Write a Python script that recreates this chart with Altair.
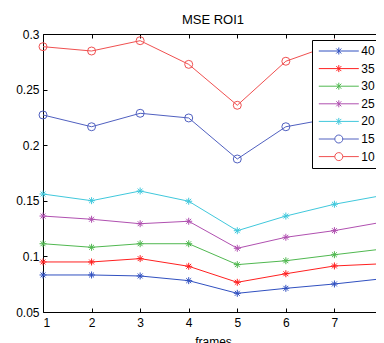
import altair as alt
import pandas as pd

frames = [1, 2, 3, 4, 5, 6, 7, 8]
series_names = ["40", "35", "30", "25", "20", "15", "10"]
s40 = [0.0833, 0.0833, 0.0824, 0.0782, 0.0668, 0.0713, 0.0752, 0.0800]
s35 = [0.0950, 0.0950, 0.0980, 0.0911, 0.0767, 0.0844, 0.0914, 0.0934]
s30 = [0.1114, 0.1082, 0.1114, 0.1114, 0.0926, 0.0961, 0.1015, 0.1067]
s25 = [0.1363, 0.1334, 0.1294, 0.1316, 0.1073, 0.1172, 0.1232, 0.1309]
s20 = [0.1561, 0.1501, 0.1588, 0.1496, 0.1231, 0.1363, 0.1469, 0.1549]
s15 = [0.2272, 0.2166, 0.2287, 0.2245, 0.1876, 0.2166, 0.2246, 0.2250]
s10 = [0.2886, 0.2847, 0.2940, 0.2727, 0.2359, 0.2755, 0.2910, 0.2900]
colors = ["#3050c0", "#ff2020", "#50b850", "#b050b0", "#40c8dc", "#5060c0", "#f05050"]
star_series = ["40", "35", "30", "25", "20"]
circle_series = ["15", "10"]
y_ticks = [0.05, 0.1, 0.15, 0.2, 0.25, 0.3]

all_vals = [s40, s35, s30, s25, s20, s15, s10]
rows = []
for name, vals in zip(series_names, all_vals):
    for f, v in zip(frames, vals):
        rows.append({"frame": f, "mse": v, "series": name})
df = pd.DataFrame(rows)

STAR = "M-1,0L1,0M0,-1L0,1M-0.7,-0.7L0.7,0.7M-0.7,0.7L0.7,-0.7"
LEG_STAR = "M-4,0L4,0M0,-0.7L0,0.7M-0.5,-0.5L0.5,0.5M-0.5,0.5L0.5,-0.5"
LEG_CIRC = "M-4,0L-0.8,0M0.8,0L4,0M0.8,0A0.8,0.8,0,1,1,-0.8,0A0.8,0.8,0,1,1,0.8,0Z"
leg_shapes = [LEG_STAR] * 5 + [LEG_CIRC] * 2

W, H = 340, 278
xs = alt.Scale(domain=[1, 8], nice=False, zero=False)
ys = alt.Scale(domain=[0.05, 0.3], nice=False, zero=False)
cs = alt.Scale(domain=series_names, range=colors)

base = alt.Chart(df)

lines = base.mark_line(strokeWidth=1).encode(
    x=alt.X("frame:Q", scale=xs, axis=alt.Axis(values=frames, title="frames", orient="bottom",
                                               ticks=False, domain=False, grid=False, labelPadding=5,
                                               titlePadding=8, format="d")),
    y=alt.Y("mse:Q", scale=ys, axis=alt.Axis(values=y_ticks, title=None,
                                             orient="left", ticks=False, domain=False, grid=False,
                                             labelPadding=4, format=".2~f")),
    color=alt.Color("series:N", scale=cs, legend=None),
    detail="series:N",
)

stars = base.transform_filter(
    alt.FieldOneOfPredicate(field="series", oneOf=star_series)
).mark_point(shape=STAR, size=49, filled=False, strokeWidth=1, opacity=1).encode(
    x=alt.X("frame:Q", scale=xs, axis=alt.Axis(values=frames, orient="top", offset=-H, labels=False,
                                               domain=False, grid=False, tickSize=4, title=None,
                                               tickColor="black")),
    y=alt.Y("mse:Q", scale=ys, axis=alt.Axis(values=y_ticks, orient="right",
                                             offset=-W, labels=False, domain=False, grid=False,
                                             tickSize=4, title=None, tickColor="black")),
    color=alt.Color("series:N", scale=cs, legend=None),
)

circles = base.transform_filter(
    alt.FieldOneOfPredicate(field="series", oneOf=circle_series)
).mark_point(shape="circle", size=64, filled=False, strokeWidth=1, opacity=1).encode(
    x=alt.X("frame:Q", scale=xs, axis=alt.Axis(values=frames, orient="bottom", offset=-H, labels=False,
                                               domain=False, grid=False, tickSize=4, title=None,
                                               tickColor="black")),
    y=alt.Y("mse:Q", scale=ys, axis=alt.Axis(values=y_ticks, orient="left",
                                             offset=-W, labels=False, domain=False, grid=False,
                                             tickSize=4, title=None, tickColor="black")),
    color=alt.Color("series:N", scale=cs, legend=None),
)

leg = dict(orient="none", legendX=269, legendY=6, title=None, symbolSize=100, symbolOpacity=1,
           symbolStrokeWidth=1, labelFontSize=12, labelFont="Liberation Sans", labelColor="black",
           padding=5, rowPadding=5.6, symbolOffset=15.8, labelOffset=16.5, fillColor="white",
           strokeColor="black")

legend_layer = base.mark_point(filled=False, strokeOpacity=0, fillOpacity=0, strokeWidth=1).encode(
    x=alt.X("frame:Q", scale=xs, axis=None),
    y=alt.Y("mse:Q", scale=ys, axis=None),
    color=alt.Color("series:N", scale=cs, legend=alt.Legend(**leg)),
    shape=alt.Shape("series:N", scale=alt.Scale(domain=series_names, range=leg_shapes),
                    legend=alt.Legend(**leg)),
)

chart = alt.layer(lines, stars, circles, legend_layer).resolve_axis(
    x="independent", y="independent"
).resolve_scale(
    color="independent", shape="independent"
).properties(
    width=W, height=H,
    title=alt.Title("MSE ROI1", fontSize=13, fontWeight="normal", font="Liberation Sans",
                    color="black", offset=1),
    autosize=alt.AutoSizeParams(type="none"),
    padding={"left": 35, "top": 26, "right": -7, "bottom": 45},
    background="white",
).configure_view(
    stroke="black", strokeWidth=1
).configure_axis(
    labelFont="Liberation Sans", labelFontSize=12, labelColor="black",
    titleFont="Liberation Sans", titleFontSize=12, titleFontWeight="normal", titleColor="black",
)

chart.save("out.html", embed_options={"renderer": "svg", "actions": False})
